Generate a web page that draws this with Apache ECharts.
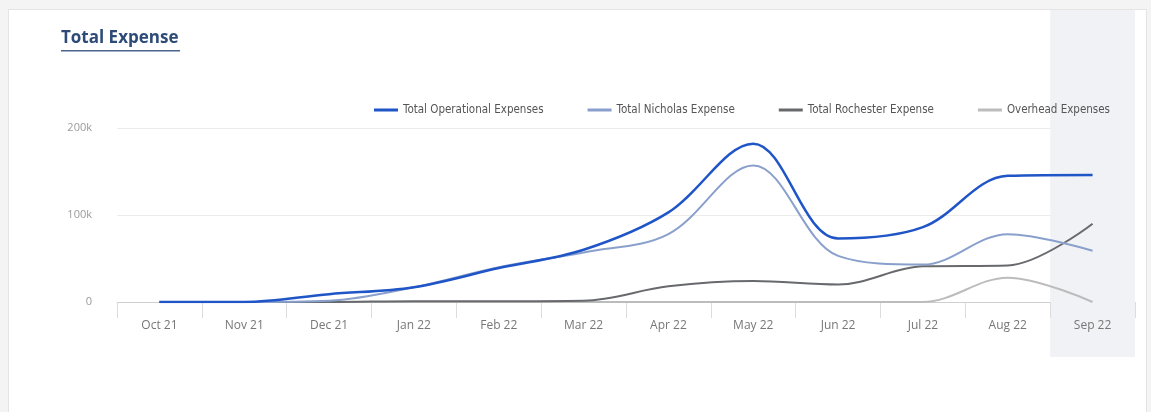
<!DOCTYPE html>
<html><head><meta charset="utf-8">
<script src="https://cdn.jsdelivr.net/npm/echarts@6/dist/echarts.min.js"></script>
<style>
html,body{margin:0;padding:0;background:#f4f4f4;}
#card{position:absolute;left:8px;top:9px;width:1139px;height:410px;background:#fff;border:1px solid #e4e4e4;box-sizing:border-box;}
#chart{position:absolute;left:0;top:0;width:1151px;height:412px;}
</style></head>
<body>
<div id="card"></div>
<div id="chart"></div>
<script>
const categories = ['Oct 21','Nov 21','Dec 21','Jan 22','Feb 22','Mar 22','Apr 22','May 22','Jun 22','Jul 22','Aug 22','Sep 22'];
const operational = [0, 0, 9000, 17000, 39000, 60000, 103000, 182000, 73000, 86000, 145000, 146000];
const nicholas    = [0, 0, 1500, 17000, 40000, 57000, 78000, 157000, 53000, 43000, 78000, 59000];
const rochester   = [0, 0, 0, 1000, 1000, 1500, 18000, 24000, 20000, 41000, 42000, 90000];
const overhead    = [0, 0, 0, 0, 0, 0, 0, 0, 0, 0, 28000, 0];
const seriesNames = ['Total Operational Expenses','Total Nicholas Expense','Total Rochester Expense','Overhead Expenses'];
const yTicks = [0, 100000, 200000];
const highlighted = 'Sep 22';

const colors = ['#1f55c6','#8aa0cc','#67696d','#bcbcbc'];
const chart = echarts.init(document.getElementById('chart'), null, {renderer:'canvas'});
const highlightData = categories.map(c => c === highlighted ? 1 : null);

function lineSeries(name, data, color, width){
  return {name, type:'line', data, smooth:0.35, showSymbol:false, symbol:'none',
    lineStyle:{color, width}, itemStyle:{color}, xAxisIndex:0, yAxisIndex:0, z:3};
}

chart.setOption({
  animation:false,
  color: colors,
  graphic:[
    {type:'text', left:61, top:30, style:{text:'Total Expense', font:'bold 17px "Open Sans", sans-serif', fill:'#2e4b78'}},
    {type:'rect', left:61, top:50, shape:{width:119, height:1.5}, style:{fill:'#4a6490'}}
  ],
  legend:{
    data: seriesNames, right:36, top:99, icon:'rect', itemWidth:24, itemHeight:3, itemGap:44,
    textStyle:{fontFamily:'"DejaVu Sans"', fontWeight:'condensed', fontSize:11.5, color:'#555'}
  },
  grid:[
    {left:117, right:16, top:128, bottom:110},
    {left:117, right:16, top:10, bottom:55}
  ],
  xAxis:[
    {type:'category', data:categories, gridIndex:0, boundaryGap:true,
     axisLine:{lineStyle:{color:'#cfcfcf'}},
     axisTick:{show:true, length:16, lineStyle:{color:'#dcdcdc'}},
     axisLabel:{color:'#777', fontSize:12, margin:18, fontFamily:'"Open Sans", sans-serif'}},
    {type:'category', data:categories, gridIndex:1, show:false, boundaryGap:true}
  ],
  yAxis:[
    {type:'value', gridIndex:0, min:0, max:200000, interval:100000,
     axisLine:{show:false}, axisTick:{show:false},
     splitLine:{lineStyle:{color:'#ececec'}},
     axisLabel:{color:'#9a9a9a', fontSize:11, margin:25, fontFamily:'"Open Sans", sans-serif',
       formatter: v => yTicks.includes(v) ? (v === 0 ? '0' : (v/1000)+'k') : ''}},
    {type:'value', gridIndex:1, min:0, max:1, show:false}
  ],
  series:[
    {type:'bar', xAxisIndex:1, yAxisIndex:1, data:highlightData, barWidth:'100%', silent:true,
     itemStyle:{color:'#f1f2f6'}, z:0, legendHoverLink:false},
    lineSeries(seriesNames[3], overhead, colors[3], 2),
    lineSeries(seriesNames[2], rochester, colors[2], 2),
    lineSeries(seriesNames[1], nicholas, colors[1], 2),
    lineSeries(seriesNames[0], operational, colors[0], 2.5)
  ]
});
</script>
</body></html>
